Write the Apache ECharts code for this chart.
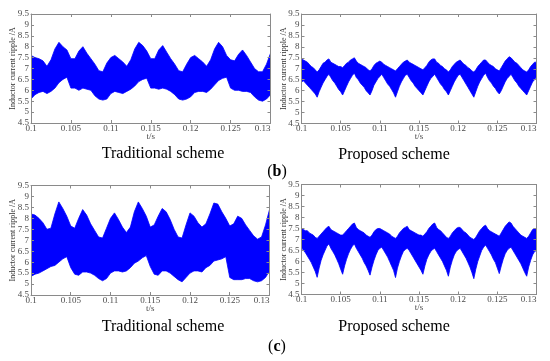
<!DOCTYPE html>
<html><head><meta charset="utf-8">
<script src="https://cdn.jsdelivr.net/npm/echarts@6/dist/echarts.min.js"></script>
<style>html,body{margin:0;padding:0;background:#fff}#c{width:550px;height:361px}</style>
</head><body><div id="c"></div>
<script>
// ---- data ----
const xTickLabels = ['0.1','0.105','0.11','0.115','0.12','0.125','0.13'];
const yTickLabels = ['4.5','5','5.5','6','6.5','7','7.5','8','8.5','9','9.5'];
const panelTitles = ['Traditional scheme','Proposed scheme','Traditional scheme','Proposed scheme'];

// sample times (s)
const tradTimes = Array.from({length:61}, (_, i) => +(0.1 + i*0.0005).toFixed(5));
const propTimes = Array.from({length:121}, (_, i) => +(0.1 + i*0.00025).toFixed(5));

// (b) traditional: ripple envelope (A)
const bTradUpper = [7.6,7.5,7.45,7.35,7.1,7.4,7.9,8.2,8.0,7.85,7.45,7.45,7.8,8.0,7.7,7.45,7.2,6.9,6.85,7.25,7.5,7.6,7.45,7.3,7.1,7.4,7.9,8.2,8.05,7.8,7.45,7.45,7.85,8.05,7.75,7.45,7.2,6.9,6.85,7.2,7.5,7.6,7.45,7.3,7.1,7.4,7.9,8.2,8.0,7.6,7.4,7.35,7.65,7.85,7.6,7.3,7.0,6.85,6.85,7.2,7.7];
const bTradLower = [5.6,5.8,5.9,5.95,5.85,5.95,6.1,6.35,6.5,6.6,6.1,6.1,6.0,6.1,6.05,6.0,5.75,5.6,5.55,5.6,5.85,5.95,5.9,5.85,5.95,6.05,6.2,6.4,6.5,6.55,6.1,6.1,6.05,6.1,6.05,5.95,5.8,5.6,5.55,5.6,5.7,5.9,5.95,5.95,5.9,6.05,6.25,6.45,6.55,6.6,6.1,6.0,6.0,5.95,5.95,5.9,5.7,5.55,5.5,5.6,5.8];

// (b) proposed
const bPropUpper = [7.45,7.4,7.35,7.3,7.2,7.1,7.05,6.95,6.85,6.95,
7.1,7.25,7.3,7.4,7.45,7.3,7.25,7.2,7.15,7.1,
7.1,7.05,7.15,7.25,7.3,7.4,7.45,7.5,7.35,7.25,
7.2,7.15,7.1,7.05,6.95,6.9,7.0,7.15,7.25,7.3,
7.35,7.3,7.2,7.15,7.1,7.05,7.0,6.95,6.9,7.0,
7.1,7.2,7.3,7.35,7.4,7.3,7.25,7.2,7.15,7.1,
7.05,7.0,6.95,7.05,7.15,7.3,7.4,7.45,7.45,7.3,
7.25,7.15,7.1,7.0,6.95,6.85,6.95,7.1,7.2,7.3,
7.35,7.4,7.3,7.2,7.15,7.05,7.0,6.9,6.85,6.95,
7.1,7.2,7.3,7.4,7.4,7.3,7.2,7.15,7.1,7.0,
6.95,6.9,7.05,7.2,7.35,7.45,7.55,7.5,7.4,7.3,
7.25,7.15,7.05,6.95,6.9,6.85,6.95,7.1,7.2,7.3,
7.3];
const bPropLower = [6.4,6.45,6.35,6.25,6.15,6.05,5.95,5.85,5.7,5.95,
6.15,6.35,6.5,6.65,6.75,6.6,6.45,6.35,6.2,6.05,
5.95,5.8,6.0,6.2,6.4,6.55,6.7,6.8,6.6,6.5,
6.35,6.25,6.15,6.0,5.9,5.8,6.0,6.25,6.4,6.55,
6.65,6.75,6.6,6.45,6.3,6.2,6.05,5.9,5.7,5.95,
6.2,6.4,6.55,6.7,6.75,6.6,6.45,6.35,6.2,6.1,
6.0,5.9,5.8,6.0,6.2,6.4,6.55,6.65,6.75,6.6,
6.45,6.3,6.2,6.05,5.95,5.8,6.0,6.2,6.4,6.55,
6.7,6.75,6.6,6.45,6.3,6.15,6.0,5.85,5.7,5.95,
6.2,6.4,6.55,6.7,6.8,6.6,6.45,6.35,6.2,6.1,
5.95,5.85,6.0,6.2,6.4,6.55,6.65,6.75,6.6,6.45,
6.35,6.2,6.1,6.0,5.9,5.8,6.0,6.2,6.4,6.5,
6.65];

// (c) traditional
const cTradUpper = [8.2,8.15,8.0,7.8,7.5,7.55,8.2,8.75,8.45,8.1,7.65,7.55,8.0,8.4,8.15,7.75,7.45,7.15,7.1,7.55,8.0,8.25,7.95,7.6,7.35,7.6,8.3,8.75,8.45,8.1,7.6,7.7,8.1,8.45,8.3,7.95,7.5,7.15,7.1,7.7,8.25,8.1,7.8,7.6,7.75,8.2,8.7,8.65,8.3,8.0,7.65,7.75,8.1,8.0,7.7,7.45,7.2,7.05,7.15,7.7,8.4];
const cTradLower = [5.35,5.45,5.5,5.6,5.7,5.8,5.85,6.0,6.15,6.25,5.75,5.45,5.4,5.55,5.55,5.5,5.4,5.25,5.15,5.25,5.5,5.6,5.6,5.55,5.6,5.75,5.95,6.05,6.2,6.3,5.8,5.45,5.4,5.6,5.6,5.5,5.35,5.2,5.1,5.3,5.5,5.6,5.6,5.55,5.75,5.85,6.05,6.1,6.15,6.25,5.3,5.2,5.2,5.2,5.25,5.25,5.15,5.1,5.15,5.3,5.6];

// (c) proposed
const cPropUpper = [7.5,7.45,7.4,7.4,7.3,7.25,7.2,7.1,7.05,7.15,
7.25,7.35,7.45,7.55,7.6,7.45,7.4,7.35,7.3,7.25,
7.2,7.2,7.3,7.4,7.5,7.6,7.7,7.75,7.55,7.45,
7.4,7.35,7.3,7.2,7.15,7.1,7.2,7.35,7.45,7.5,
7.5,7.45,7.4,7.35,7.3,7.25,7.15,7.1,7.05,7.15,
7.3,7.4,7.5,7.55,7.6,7.45,7.4,7.35,7.3,7.25,
7.2,7.2,7.15,7.25,7.35,7.5,7.6,7.7,7.75,7.55,
7.45,7.4,7.3,7.2,7.1,7.05,7.15,7.3,7.4,7.5,
7.55,7.55,7.45,7.35,7.3,7.2,7.1,7.05,7.0,7.1,
7.25,7.4,7.5,7.6,7.65,7.5,7.4,7.35,7.3,7.25,
7.2,7.15,7.3,7.45,7.6,7.7,7.8,7.75,7.6,7.5,
7.4,7.3,7.2,7.15,7.1,7.05,7.15,7.3,7.45,7.5,
7.45];
const cPropLower = [6.65,6.5,6.4,6.25,6.1,5.95,5.75,5.55,5.28,5.7,
6.05,6.3,6.5,6.7,6.8,6.6,6.45,6.3,6.1,5.9,
5.65,5.42,5.8,6.1,6.35,6.55,6.7,6.8,6.6,6.45,
6.3,6.15,5.95,5.8,5.6,5.38,5.75,6.05,6.3,6.5,
6.6,6.65,6.5,6.35,6.2,6.0,5.8,5.6,5.27,5.7,
6.0,6.25,6.45,6.55,6.6,6.5,6.35,6.2,6.05,5.9,
5.75,5.6,5.42,5.8,6.1,6.3,6.45,6.55,6.6,6.45,
6.3,6.15,6.0,5.8,5.6,5.33,5.75,6.05,6.3,6.45,
6.55,6.6,6.45,6.3,6.15,5.95,5.75,5.5,5.22,5.65,
6.0,6.25,6.5,6.65,6.75,6.6,6.45,6.3,6.1,5.95,
5.7,5.45,5.8,6.1,6.35,6.5,6.6,6.65,6.5,6.35,
6.2,6.05,5.9,5.7,5.5,5.33,5.75,6.05,6.3,6.45,
6.5];

// ---- layout ----
const grids = [
  {left:31, top:14, width:239.5, height:109},
  {left:301.5, top:14, width:235, height:109.5},
  {left:31, top:185.5, width:238.5, height:109.5},
  {left:301.5, top:184.5, width:235, height:110}
];
const panels = [
  {t: tradTimes, up: bTradUpper, lo: bTradLower},
  {t: propTimes, up: bPropUpper, lo: bPropLower},
  {t: tradTimes, up: cTradUpper, lo: cTradLower},
  {t: propTimes, up: cPropUpper, lo: cPropLower}
];

const serif = '"Liberation Serif", "Times New Roman", serif';
const frameColor = '#8a8a8a';
const labelColor = '#4a4a4a';
const xMin = parseFloat(xTickLabels[0]), xMax = parseFloat(xTickLabels[xTickLabels.length-1]);
const yMin = parseFloat(yTickLabels[0]), yMax = parseFloat(yTickLabels[yTickLabels.length-1]);

// band between lower and upper envelope, drawn through the axes' coordinate mapping
function renderBand(params, api) {
  if (params.dataIndexInside !== 0) return null;
  const n = params.dataInsideLength;
  const top = [], bot = [];
  for (let k = 0; k < n; k++) {
    const t = api.value(0, k);
    top.push(api.coord([t, api.value(2, k)]));
    bot.push(api.coord([t, api.value(1, k)]));
  }
  const points = top.concat(bot.reverse());
  return {
    type: 'polygon',
    shape: {points},
    style: {fill: '#0000ff', stroke: '#0000ff', lineWidth: 0.8}
  };
}

const xAxes = [], yAxes = [], series = [];
grids.forEach((g, i) => {
  const common = {gridIndex:i, type:'value', min:xMin, max:xMax, interval:0.005, z:10,
    splitLine:{show:false},
    axisLine:{show:true, onZero:false, lineStyle:{color:frameColor, width:1}},
    axisTick:{show:true, inside:true, length:3, lineStyle:{color:frameColor}}};
  xAxes.push(Object.assign({}, common, {position:'bottom',
    name:'t/s', nameLocation:'middle', nameGap:9, nameMoveOverlap:false,
    nameTextStyle:{fontFamily:serif, fontSize:9, color:labelColor},
    axisLabel:{show:true, margin:1, fontFamily:serif, fontSize:9, color:labelColor,
      alignMaxLabel:'right',
      formatter: v => xTickLabels.find(s => Math.abs(parseFloat(s)-v) < 1e-6) || ''}}));
  xAxes.push(Object.assign({}, common, {position:'top', axisLabel:{show:false}}));
  const ycommon = {gridIndex:i, type:'value', min:yMin, max:yMax, interval:0.5, z:10,
    splitLine:{show:false},
    axisLine:{show:true, onZero:false, lineStyle:{color:frameColor, width:1}},
    axisTick:{show:true, inside:true, length:3, lineStyle:{color:frameColor}}};
  yAxes.push(Object.assign({}, ycommon, {position:'left',
    name:'Inductor current ripple /A', nameLocation:'middle', nameGap:14, nameMoveOverlap:false,
    nameTextStyle:{fontFamily:serif, fontSize:8, color:'#333'},
    axisLabel:{show:true, margin:2, fontFamily:serif, fontSize:9, color:labelColor,
      formatter: v => yTickLabels.find(s => Math.abs(parseFloat(s)-v) < 1e-6) || ''}}));
  yAxes.push(Object.assign({}, ycommon, {position:'right', axisLabel:{show:false}}));

  const p = panels[i];
  series.push({type:'custom', xAxisIndex:2*i, yAxisIndex:2*i, z:2, clip:true,
    data: p.t.map((t, k) => [t, p.lo[k], p.up[k]]),
    encode: {x: 0, y: [1, 2]},
    renderItem: renderBand});
});

const titlePos = [[163,154],[394,155],[163,327],[394,327]];
const graphic = panelTitles.map((txt, i) => ({
  type:'text', x:titlePos[i][0], y:titlePos[i][1], z:20,
  style:{text:txt, fontFamily:serif, fontSize:16, fill:'#000', align:'center', verticalAlign:'middle'}
}));
graphic.push({type:'text', x:277, y:172, z:20,
  style:{text:'({b|b})', fontFamily:serif, fontSize:16, fill:'#000', align:'center', verticalAlign:'middle',
    rich:{b:{fontWeight:'bold', fontFamily:serif, fontSize:16, fill:'#000'}}}});
graphic.push({type:'text', x:277, y:347, z:20,
  style:{text:'({b|c})', fontFamily:serif, fontSize:16, fill:'#000', align:'center', verticalAlign:'middle',
    rich:{b:{fontWeight:'bold', fontFamily:serif, fontSize:16, fill:'#000'}}}});

const chart = echarts.init(document.getElementById('c'), null, {renderer:'canvas'});
chart.setOption({
  animation:false,
  backgroundColor:'#ffffff',
  grid: grids.map(g => Object.assign({containLabel:false}, g)),
  xAxis: xAxes, yAxis: yAxes, series, graphic
});
</script></body></html>
